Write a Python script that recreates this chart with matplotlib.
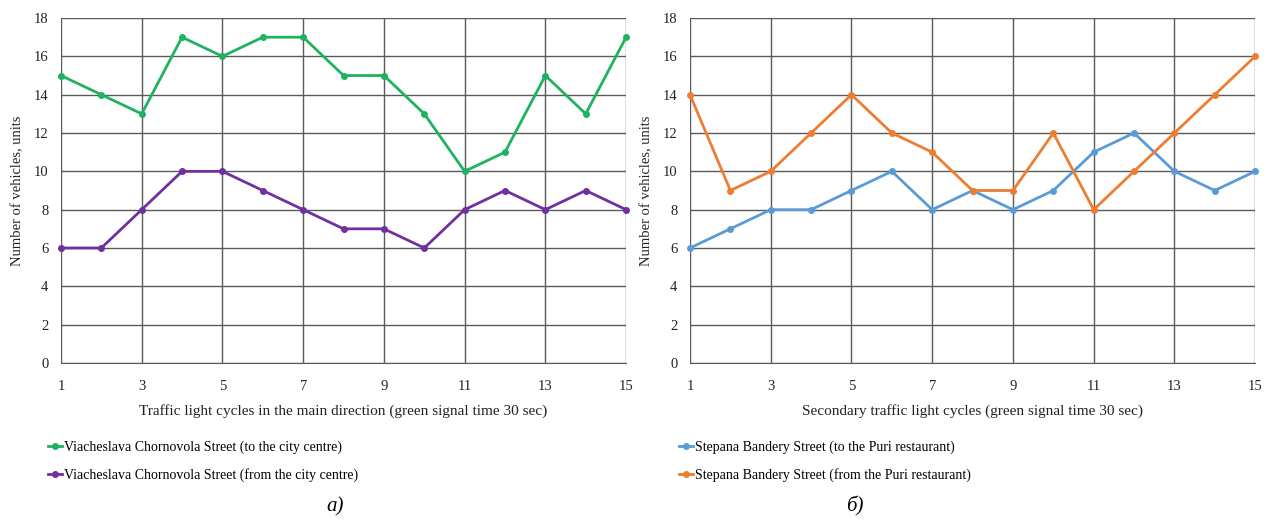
import numpy as np
import matplotlib.pyplot as plt

plt.rcParams['font.family'] = ['Liberation Serif', 'DejaVu Serif']

cycles = np.arange(1, 16)

# main direction
to_centre = [15, 14, 13, 17, 16, 17, 17, 15, 15, 13, 10, 11, 15, 13, 17]
from_centre = [6, 6, 8, 10, 10, 9, 8, 7, 7, 6, 8, 9, 8, 9, 8]

# secondary direction
to_puri = [6, 7, 8, 8, 9, 10, 8, 9, 8, 9, 11, 12, 10, 9, 10]
from_puri = [14, 9, 10, 12, 14, 12, 11, 9, 9, 12, 8, 10, 12, 14, 16]

x_ticks = [1, 3, 5, 7, 9, 11, 13, 15]
y_ticks = list(range(0, 19, 2))

fig = plt.figure(figsize=(12.7, 5.24), dpi=100)
ax1 = fig.add_axes([0.048, 0.3073, 0.445, 0.6583])
ax2 = fig.add_axes([0.5433, 0.3073, 0.445, 0.6583])


def style_axes(ax, xlabel):
    ax.set_xlim(1, 15)
    ax.set_ylim(0, 18)
    ax.set_xticks(x_ticks)
    ax.set_yticks(y_ticks)
    ax.grid(True, color='#5a5a5a', linewidth=1.0)
    ax.set_axisbelow(True)
    for side in ['top', 'right', 'left']:
        ax.spines[side].set_visible(False)
    ax.spines['bottom'].set_color('#5a5a5a')
    ax.tick_params(axis='x', length=0, labelsize=10.5, pad=12, colors='#222222')
    ax.tick_params(axis='y', length=0, labelsize=10.5, pad=9, colors='#222222')
    ax.set_xlabel(xlabel, fontsize=11, labelpad=8, color='#222222')
    ax.set_ylabel('Number of vehicles, units', fontsize=10.5, labelpad=7, color='#222222')


ax1.plot(cycles, to_centre, color='#1fb25f', lw=2, marker='o', ms=4,
         label='Viacheslava Chornovola Street (to the city centre)', clip_on=False)
ax1.plot(cycles, from_centre, color='#7030a0', lw=2, marker='o', ms=4,
         label='Viacheslava Chornovola Street (from the city centre)', clip_on=False)
style_axes(ax1, 'Traffic light cycles in the main direction (green signal time 30 sec)')

ax2.plot(cycles, to_puri, color='#5b9bd5', lw=2, marker='o', ms=4,
         label='Stepana Bandery Street (to the Puri restaurant)', clip_on=False)
ax2.plot(cycles, from_puri, color='#ed7d31', lw=2, marker='o', ms=4,
         label='Stepana Bandery Street (from the Puri restaurant)', clip_on=False)
style_axes(ax2, 'Secondary traffic light cycles (green signal time 30 sec)')

# legends sit below each chart
for ax, x0 in [(ax1, 0.028), (ax2, 0.525)]:
    ax.legend(loc='upper left', bbox_to_anchor=(x0, 0.183), bbox_transform=fig.transFigure,
              frameon=False, fontsize=10, handlelength=1.0, handletextpad=0.15,
              labelspacing=1.0)

fig.text(0.264, 0.024, 'а)', fontsize=15, style='italic', ha='center')
fig.text(0.673, 0.024, 'б)', fontsize=15, style='italic', ha='center')

fig.savefig('out.png', dpi=100)
